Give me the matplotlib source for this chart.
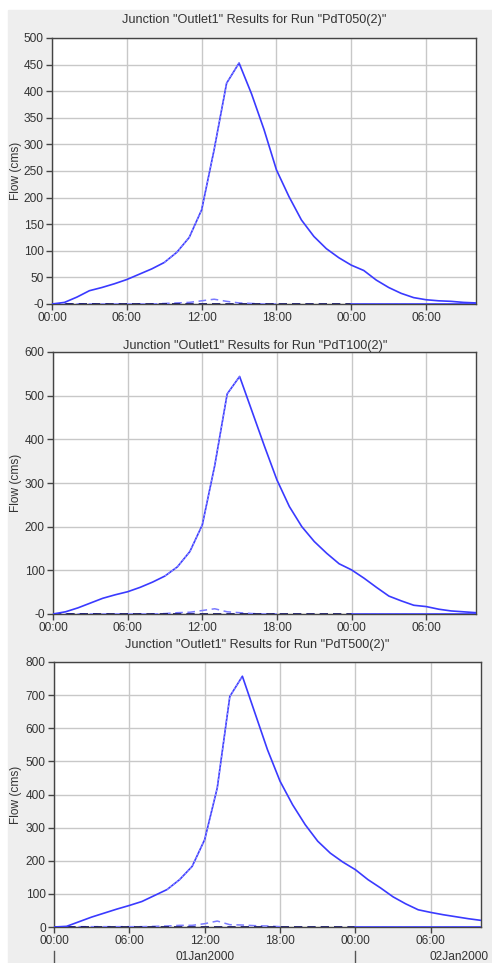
import numpy as np
import matplotlib
matplotlib.use('Agg')
import matplotlib.pyplot as plt
from matplotlib.patches import Rectangle
from matplotlib.transforms import blended_transform_factory

plt.rcParams['font.family'] = ['Liberation Sans', 'DejaVu Sans']

# hourly results, 00:00 01Jan2000 .. 10:00 02Jan2000
hours = np.arange(0, 35)

outflow_050 = [0, 3, 13, 25, 31, 38, 46, 56, 66, 78, 97, 125, 177, 290, 415, 453, 395,
               328, 252, 202, 158, 127, 104, 87, 73, 63, 45, 31, 20, 12, 8, 6, 5, 3, 2]
outflow_100 = [0, 5, 14, 25, 36, 44, 51, 61, 73, 87, 108, 143, 204, 340, 504, 544, 464,
               384, 307, 246, 200, 166, 139, 115, 101, 82, 61, 41, 30, 20, 17, 11, 7, 5, 3]
outflow_500 = [0, 2, 16, 30, 42, 54, 65, 77, 95, 113, 143, 183, 264, 420, 696, 757, 646,
               535, 440, 369, 309, 259, 223, 196, 173, 143, 118, 91, 70, 52, 44, 37, 31, 25, 20]

# local (subbasin) flow, dashed light blue
local_hours = np.arange(0, 19)
local_050 = [0, 0, 0, 0, 0, 0, 0, 0, 0, 1, 2, 3, 6, 9, 5, 2, 1, 0, 0]
local_100 = [0, 0, 0, 0, 0, 0, 0, 0, 0, 1, 3, 4, 8, 12, 5, 3, 1, 0, 0]
local_500 = [0, 0, 1, 1, 1, 1, 1, 1, 2, 3, 5, 5, 10, 18, 7, 6, 4, 3, 1]

# inflow overlaps outflow on the rising limb
inflow_hours = np.arange(9, 16)

zero_a_hours = [0, 24]
zero_b_hours = [24, 34]

runs = ['PdT050(2)', 'PdT100(2)', 'PdT500(2)']
outflows = [outflow_050, outflow_100, outflow_500]
locals_ = [local_050, local_100, local_500]
ymaxes = [500, 600, 800]
ysteps = [50, 100, 100]
zero_labels = ['-0', '-0', '0']

xtick_hours = [0, 6, 12, 18, 24, 30]
xtick_labels = ['00:00', '06:00', '12:00', '18:00', '00:00', '06:00']

W, H = 492, 963
fig = plt.figure(figsize=(W / 100, H / 100), dpi=100)
fig.patches.append(Rectangle((8 / W, 0), 1, 1 - 10 / H, transform=fig.transFigure,
                             color='#eeeeee', zorder=-5))

# left, right, top, bottom in pixels
boxes = [(52, 476, 38, 304), (53, 476, 352, 614), (54, 481, 662, 927)]
title_xy = [(254, 20), (255, 346), (257, 645)]

blue = '#3a3aff'
for i in range(3):
    l, r, t, b = boxes[i]
    ax = fig.add_axes([l / W, 1 - b / H, (r - l) / W, (b - t) / H])
    ax.set_facecolor('white')
    out = np.array(outflows[i])
    ax.plot(hours, out, color=blue, lw=1.2, zorder=4)
    ax.plot(inflow_hours, out[inflow_hours], color='#9a9aff', lw=0.7,
            ls=(0, (2, 2)), zorder=5)
    ax.plot(local_hours, locals_[i], color='#7a7aff', lw=1.1, ls=(0, (5, 3)), zorder=3)
    ax.plot(zero_a_hours, [0, 0], color='#101060', lw=1.2, ls=(0, (5, 3)), zorder=3)
    ax.plot(zero_b_hours, [0, 0], color=blue, lw=1.2, zorder=3)
    ax.plot(zero_b_hours, [0, 0], color='#999999', lw=0.8, ls=(0, (3, 4)), zorder=4)

    ax.set_xlim(0, 34)
    ax.set_ylim(0, ymaxes[i])
    yt = np.arange(0, ymaxes[i] + 1, ysteps[i])
    ax.set_yticks(yt)
    ax.set_yticklabels([zero_labels[i]] + [str(v) for v in yt[1:]])
    ax.set_xticks(xtick_hours)
    ax.set_xticklabels(xtick_labels)
    ax.grid(True, color='#c8c8c8', lw=1)
    ax.set_axisbelow(True)
    for s in ax.spines.values():
        s.set_color('#444444')
        s.set_linewidth(1)
    ax.tick_params(direction='out', length=4, width=1, color='#444444',
                   labelsize=8.6, labelcolor='#333333', pad=2)
    ax.set_ylabel('Flow (cms)', fontsize=8.6, color='#333333')
    ax.yaxis.set_label_coords(-(l - 22) / (r - l), 0.5)

    tx, ty = title_xy[i]
    fig.text(tx / W, 1 - ty / H,
             'Junction "Outlet1" Results for Run "%s"' % runs[i],
             ha='center', va='center', fontsize=9.1, color='#333333')

    if i == 2:
        tr = blended_transform_factory(ax.transData, ax.transAxes)
        dy = (b - t)
        for d in [0, 24]:
            ax.plot([d, d], [-(951 - b) / dy, -(963 - b) / dy], color='#555555',
                    lw=1, transform=tr, clip_on=False)
        ax.text(12, -(957 - b) / dy, '01Jan2000', transform=tr, ha='center',
                va='center', fontsize=8.6, color='#333333')
        ax.text(34.6, -(957 - b) / dy, '02Jan2000', transform=tr, ha='right',
                va='center', fontsize=8.6, color='#333333')

fig.savefig('out.png', dpi=100)
